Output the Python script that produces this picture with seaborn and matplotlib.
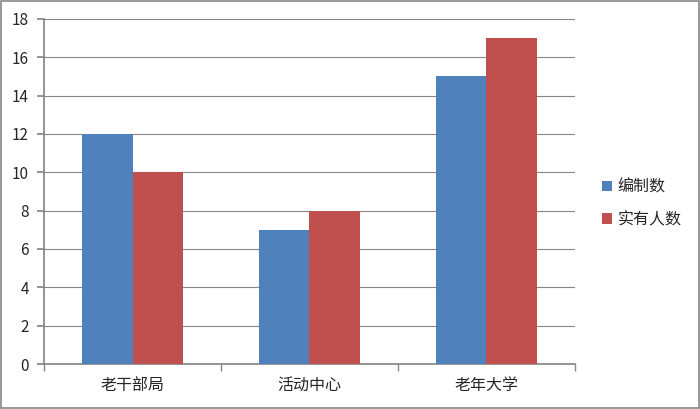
import pandas as pd
import matplotlib.pyplot as plt
import seaborn as sns
from matplotlib.patches import Rectangle

# chart data
categories = ["老干部局", "活动中心", "老年大学"]
series_names = ["编制数", "实有人数"]
planned = [12, 7, 15]
actual = [10, 8, 17]

df = pd.DataFrame({
    "category": categories * 2,
    "series": [series_names[0]] * 3 + [series_names[1]] * 3,
    "value": planned + actual,
})

sns.set_theme(style="white")
plt.rcParams["font.family"] = ["Noto Sans CJK SC", "DejaVu Sans"]

fig = plt.figure(figsize=(7, 4.09), dpi=100)
ax = fig.add_axes([0.063, 0.110, 0.758, 0.844])

sns.barplot(data=df, x="category", y="value", hue="series",
            palette=["#4F81BD", "#C0504D"], width=0.57, saturation=1,
            linewidth=0, ax=ax, zorder=3)

ax.set_ylim(0, 18)
ax.set_yticks(range(0, 19, 2))
ax.set_xlim(-0.5, 2.5)
ax.yaxis.grid(True, color="#868686", linewidth=0.8, zorder=0)
ax.set_axisbelow(True)
ax.set_xlabel("")
ax.set_ylabel("")

for side in ["top", "right"]:
    ax.spines[side].set_visible(False)
ax.spines["left"].set_color("#868686")
ax.spines["bottom"].set_color("#868686")

# category boundary ticks on x axis
ax.set_xticks([0, 1, 2])
ax.set_xticklabels(categories, fontsize=11.5)
ax.set_xticks([-0.5, 0.5, 1.5, 2.5], minor=True)
ax.tick_params(axis="x", which="major", length=0, pad=9)
ax.tick_params(axis="x", which="minor", length=5, color="#868686",
               direction="out", bottom=True)
ax.tick_params(axis="y", length=5, color="#868686", direction="out",
               left=True, labelsize=11, pad=6)

leg = ax.legend(loc="center left", bbox_to_anchor=(1.025, 0.465), frameon=False,
                fontsize=11.5, handlelength=0.6, handleheight=0.6,
                handletextpad=0.35, labelspacing=0.95)

# outer border
fig.patches.append(Rectangle((0.001, 0.002), 0.997, 0.996, transform=fig.transFigure,
                             fill=False, edgecolor="#868686", linewidth=1.2))

fig.savefig("out.png", dpi=100)
plt.close()
